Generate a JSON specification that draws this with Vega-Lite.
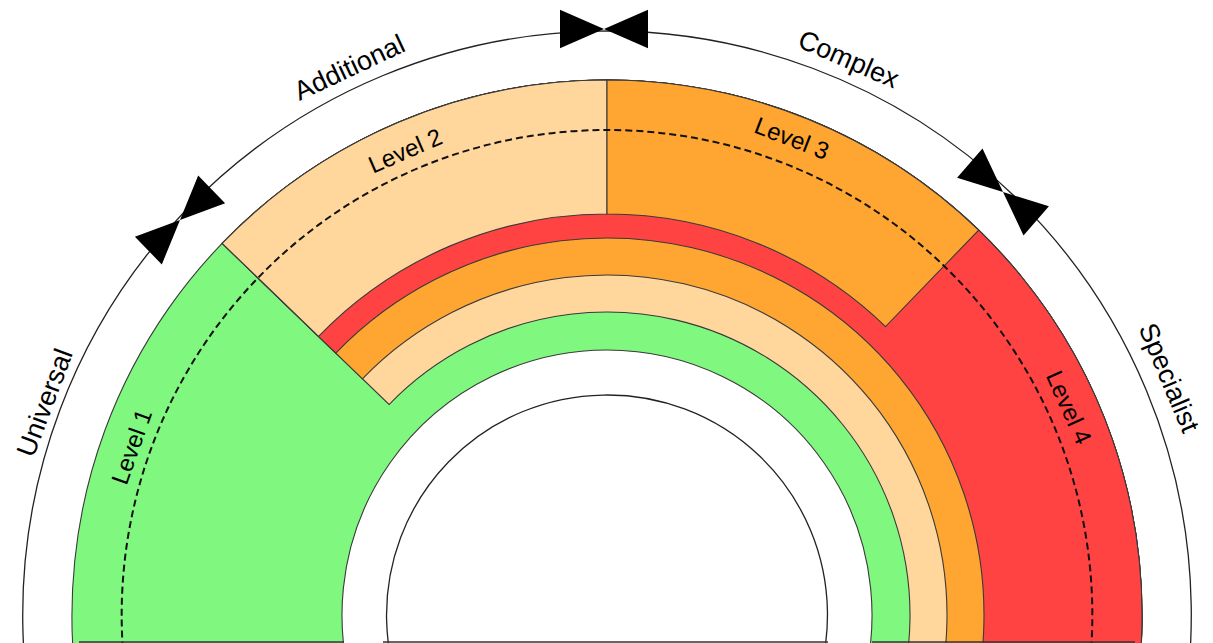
{
  "$schema": "https://vega.github.io/schema/vega-lite/v6.json",
  "width": 1213,
  "height": 643,
  "padding": 0,
  "autosize": {"type": "none"},
  "background": "white",
  "config": {"view": {"stroke": null}},
  "layer": [
    {
      "data": {"values": [
        {"ring": "outer", "t0": -181, "t1": 181, "r": 584},
        {"ring": "inner", "t0": -181, "t1": 181, "r": 220}
      ]},
      "mark": {"type": "arc", "filled": false, "stroke": "#222222", "strokeWidth": 1.3},
      "encoding": {
        "x": {"datum": 0, "type": "quantitative", "scale": {"domain": [-607, 606], "nice": false, "zero": false}, "axis": null},
        "y": {"datum": 0, "type": "quantitative", "scale": {"domain": [-28, 615], "nice": false, "zero": false}, "axis": null},
        "theta": {"field": "t0", "type": "quantitative", "stack": null, "scale": {"domain": [-180, 180], "range": [-3.14159265, 3.14159265], "nice": false, "zero": false}},
        "theta2": {"field": "t1"},
        "radius": {"field": "r", "type": "quantitative", "scale": {"type": "linear", "domain": [0, 600], "range": [0, 600], "nice": false, "zero": false}}
      }
    },
    {
      "data": {"values": [
        {"part": "Level 1 base", "level": "Level 1", "t0": -110, "t1": 110, "r0": 265, "r1": 535},
        {"part": "ring 2", "level": "Level 2", "t0": -46, "t1": 110, "r0": 303, "r1": 535},
        {"part": "ring 3", "level": "Level 3", "t0": -46, "t1": 110, "r0": 340, "r1": 535},
        {"part": "ring 4", "level": "Level 4", "t0": -46, "t1": 110, "r0": 377, "r1": 535},
        {"part": "Level 2 block", "level": "Level 2", "t0": -46, "t1": 0, "r0": 401, "r1": 535},
        {"part": "Level 3 block", "level": "Level 3", "t0": 0, "t1": 44, "r0": 401, "r1": 535}
      ]},
      "mark": {"type": "arc", "stroke": "#3a3a3a", "strokeWidth": 1.1},
      "encoding": {
        "x": {"datum": 0, "type": "quantitative", "scale": {"domain": [-607, 606], "nice": false, "zero": false}, "axis": null},
        "y": {"datum": 0, "type": "quantitative", "scale": {"domain": [-28, 615], "nice": false, "zero": false}, "axis": null},
        "theta": {"field": "t0", "type": "quantitative", "stack": null, "scale": {"domain": [-180, 180], "range": [-3.14159265, 3.14159265], "nice": false, "zero": false}},
        "theta2": {"field": "t1"},
        "radius": {"field": "r1", "type": "quantitative", "scale": {"type": "linear", "domain": [0, 600], "range": [0, 600], "nice": false, "zero": false}},
        "radius2": {"field": "r0"},
        "color": {"field": "level", "type": "nominal", "scale": {"domain": ["Level 1", "Level 2", "Level 3", "Level 4"], "range": ["#80F880", "#FFD69B", "#FFA532", "#FF4343"]}, "legend": null}
      }
    },
    {
      "data": {"values": [{"ring": "dashed", "t0": -181, "t1": 181, "r": 485}]},
      "mark": {"type": "arc", "filled": false, "stroke": "#111111", "strokeWidth": 2, "strokeDash": [7, 4]},
      "encoding": {
        "x": {"datum": 0, "type": "quantitative", "scale": {"domain": [-607, 606], "nice": false, "zero": false}, "axis": null},
        "y": {"datum": 0, "type": "quantitative", "scale": {"domain": [-28, 615], "nice": false, "zero": false}, "axis": null},
        "theta": {"field": "t0", "type": "quantitative", "stack": null, "scale": {"domain": [-180, 180], "range": [-3.14159265, 3.14159265], "nice": false, "zero": false}},
        "theta2": {"field": "t1"},
        "radius": {"field": "r", "type": "quantitative", "scale": {"type": "linear", "domain": [0, 600], "range": [0, 600], "nice": false, "zero": false}}
      }
    },
    {
      "data": {"values": [
        {"x0": -528, "x1": -263, "yb": -27},
        {"x0": -224, "x1": 221, "yb": -27},
        {"x0": 265, "x1": 528, "yb": -27}
      ]},
      "mark": {"type": "rule", "color": "#333333", "strokeWidth": 1.5},
      "encoding": {
        "x": {"field": "x0", "type": "quantitative", "scale": {"domain": [-607, 606], "nice": false, "zero": false}, "axis": null},
        "x2": {"field": "x1"},
        "y": {"field": "yb", "type": "quantitative", "scale": {"domain": [-28, 615], "nice": false, "zero": false}, "axis": null}
      }
    },
    {
      "data": {"values": [
        {"marker": "Universal/Additional", "bx": -427, "by": 395, "rot": -44},
        {"marker": "Additional/Complex", "bx": -3, "by": 586, "rot": 0},
        {"marker": "Complex/Specialist", "bx": 396, "by": 423, "rot": 41}
      ]},
      "mark": {"type": "point", "shape": "M-1,-0.44L0,0L-1,0.44ZM1,-0.44L0,0L1,0.44Z", "filled": true, "color": "black", "size": 7744, "opacity": 1, "strokeWidth": 0},
      "encoding": {
        "x": {"field": "bx", "type": "quantitative", "scale": {"domain": [-607, 606], "nice": false, "zero": false}, "axis": null},
        "y": {"field": "by", "type": "quantitative", "scale": {"domain": [-28, 615], "nice": false, "zero": false}, "axis": null},
        "angle": {"field": "rot", "type": "quantitative", "scale": {"domain": [-180, 180], "range": [-180, 180], "nice": false, "zero": false}}
      }
    },
    {
      "data": {"values": [
        {"label": "Universal", "theta": -69.3, "r": 600},
        {"label": "Additional", "theta": -25.2, "r": 604},
        {"label": "Complex", "theta": 23.5, "r": 605},
        {"label": "Specialist", "theta": 67.1, "r": 609}
      ]},
      "mark": {"type": "text", "font": "Liberation Sans", "fontSize": 27, "align": "center", "baseline": "middle", "color": "black"},
      "encoding": {
        "x": {"datum": 0, "type": "quantitative", "scale": {"domain": [-607, 606], "nice": false, "zero": false}, "axis": null},
        "y": {"datum": 0, "type": "quantitative", "scale": {"domain": [-28, 615], "nice": false, "zero": false}, "axis": null},
        "theta": {"field": "theta", "type": "quantitative", "stack": null, "scale": {"domain": [-180, 180], "range": [-3.14159265, 3.14159265], "nice": false, "zero": false}},
        "radius": {"field": "r", "type": "quantitative", "scale": {"type": "linear", "domain": [0, 600], "range": [0, 600], "nice": false, "zero": false}},
        "angle": {"field": "theta", "type": "quantitative", "scale": {"domain": [-180, 180], "range": [-180, 180], "nice": false, "zero": false}},
        "text": {"field": "label"}
      }
    },
    {
      "data": {"values": [
        {"label": "Level 1", "theta": -70.5, "r": 503},
        {"label": "Level 2", "theta": -23.5, "r": 505},
        {"label": "Level 3", "theta": 21.2, "r": 510},
        {"label": "Level 4", "theta": 65.8, "r": 505}
      ]},
      "mark": {"type": "text", "font": "Liberation Sans", "fontSize": 24, "align": "center", "baseline": "middle", "color": "black"},
      "encoding": {
        "x": {"datum": 0, "type": "quantitative", "scale": {"domain": [-607, 606], "nice": false, "zero": false}, "axis": null},
        "y": {"datum": 0, "type": "quantitative", "scale": {"domain": [-28, 615], "nice": false, "zero": false}, "axis": null},
        "theta": {"field": "theta", "type": "quantitative", "stack": null, "scale": {"domain": [-180, 180], "range": [-3.14159265, 3.14159265], "nice": false, "zero": false}},
        "radius": {"field": "r", "type": "quantitative", "scale": {"type": "linear", "domain": [0, 600], "range": [0, 600], "nice": false, "zero": false}},
        "angle": {"field": "theta", "type": "quantitative", "scale": {"domain": [-180, 180], "range": [-180, 180], "nice": false, "zero": false}},
        "text": {"field": "label"}
      }
    }
  ]
}
